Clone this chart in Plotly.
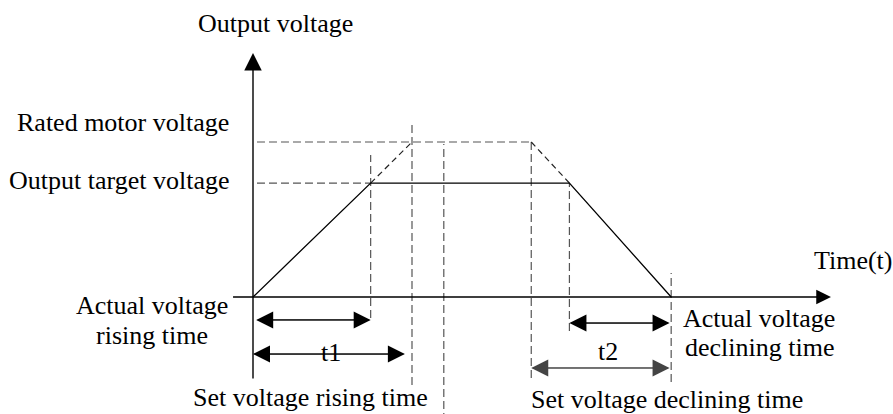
import plotly.graph_objects as go

# Time instants (s) and voltage levels (% of rated voltage)
t_rise_actual = 7.4
t_rise_set = 10.0
t_aux = 12.0
t_fall_set = 17.5
t_fall_actual = 19.9
t_stop = 26.3
v_rated = 100.0
v_target = 73.5

# Actual output voltage profile (solid trapezoid)
profile_t = [0, t_rise_actual, t_fall_actual, t_stop]
profile_v = [0, v_target, v_target, 0]

# Ramps at the set rate, continued up to rated voltage (dashed)
set_rise_t = [t_rise_actual, t_rise_set]
set_rise_v = [v_target, v_rated]
set_fall_t = [t_fall_set, t_fall_actual]
set_fall_v = [v_rated, v_target]

# Vertical guide lines: time, upper end, lower end
guide_t = [t_rise_actual, t_rise_set, t_aux, t_fall_set, t_fall_actual, t_stop]
guide_top = [91.6, 112.9, 98.7, 100.0, 73.5, 15.5]
guide_bottom = [-13.5, -56.8, -80.0, -52.3, -21.9, -54.8]

# Horizontal guide lines from the voltage axis
level_v = [v_rated, v_target]
level_t_end = [t_fall_set, t_rise_actual]

# Dimension arrows: start time, end time, level
dim_start = [0.2, 0.0, t_fall_actual, t_fall_set]
dim_end = [t_rise_actual, 9.55, 26.2, 26.2]
dim_level = [-14.8, -36.8, -16.8, -45.8]
dim_color = ["#000000", "#000000", "#000000", "#444444"]

# Axis extents
t_axis = [-1.35, 36.35]
v_axis = [-53.5, 157.4]

W, H = 893, 414
X0, Y0 = 253, 297          # pixel position of the origin
PX_T, PX_V = 15.9, 1.55    # pixels per time unit / per voltage unit

FONT = dict(family="Liberation Serif, Times New Roman, serif", size=26, color="#000000")
DASH_GRAY = "#555555"

fig = go.Figure()

# Horizontal guide lines
for v, te in zip(level_v, level_t_end):
    fig.add_trace(go.Scatter(x=[0.25, te], y=[v, v], mode="lines",
                             line=dict(color=DASH_GRAY, width=1.2, dash="8px,4px"),
                             hoverinfo="skip", showlegend=False))

# Vertical guide lines
for t, top, bot in zip(guide_t, guide_top, guide_bottom):
    fig.add_trace(go.Scatter(x=[t, t], y=[bot, top], mode="lines",
                             line=dict(color=DASH_GRAY, width=1.2, dash="8px,4px"),
                             hoverinfo="skip", showlegend=False))

# Set-rate ramps
for tt, vv in ((set_rise_t, set_rise_v), (set_fall_t, set_fall_v)):
    fig.add_trace(go.Scatter(x=tt, y=vv, mode="lines",
                             line=dict(color="#222222", width=1.2, dash="6px,4px"),
                             hoverinfo="skip", showlegend=False))

# Actual output voltage
fig.add_trace(go.Scatter(x=profile_t, y=profile_v, mode="lines",
                         line=dict(color="#000000", width=1.3),
                         hoverinfo="skip", showlegend=False))

annotations = []

# Axes with arrowheads
annotations.append(dict(x=t_axis[1], y=0, ax=t_axis[0], ay=0, xref="x", yref="y",
                        axref="x", ayref="y", text="", showarrow=True,
                        arrowhead=2, arrowsize=2.1, arrowwidth=1.4, arrowcolor="#000000"))
annotations.append(dict(x=0, y=v_axis[1], ax=0, ay=v_axis[0], xref="x", yref="y",
                        axref="x", ayref="y", text="", showarrow=True,
                        arrowhead=2, arrowsize=2.5, arrowwidth=1.4, arrowcolor="#000000"))

# Double-headed dimension arrows: one full-length arrow towards each end
for s, e, lv, c in zip(dim_start, dim_end, dim_level, dim_color):
    for tip, tail in ((s, e), (e, s)):
        annotations.append(dict(x=tip, y=lv, ax=tail, ay=lv, xref="x", yref="y",
                                axref="x", ayref="y", text="", showarrow=True,
                                arrowhead=2, arrowsize=3.4, arrowwidth=1.0, arrowcolor=c))


def label(text, px, py, anchor="center"):
    annotations.append(dict(text=text, x=px / W, y=1 - py / H, xref="paper", yref="paper",
                            xanchor=anchor, yanchor="middle", showarrow=False, font=FONT))


label("Output voltage", 275, 23.2)
label("Rated motor voltage", 231, 122.2, "right")
label("Output target voltage", 231, 180.6, "right")
label("Actual voltage", 152, 305.2)
label("rising time", 152, 335.6)
label("Set voltage rising time", 310.5, 397.2)
label("Time(t)", 853.5, 260.2)
label("Actual voltage", 759, 318.9)
label("declining time", 759.5, 347.9)
label("Set voltage declining time", 666.7, 399.5)
label("t1", 330.7, 352.2)
label("t2", 608, 351.2)

fig.update_layout(
    width=W, height=H,
    margin=dict(l=0, r=0, t=0, b=0),
    paper_bgcolor="#ffffff", plot_bgcolor="#ffffff",
    xaxis=dict(visible=False, range=[-X0 / PX_T, (W - X0) / PX_T], fixedrange=True),
    yaxis=dict(visible=False, range=[-(H - Y0) / PX_V, Y0 / PX_V], fixedrange=True),
    annotations=annotations,
    showlegend=False,
)

fig.write_html("out.html", config={"displayModeBar": False})
